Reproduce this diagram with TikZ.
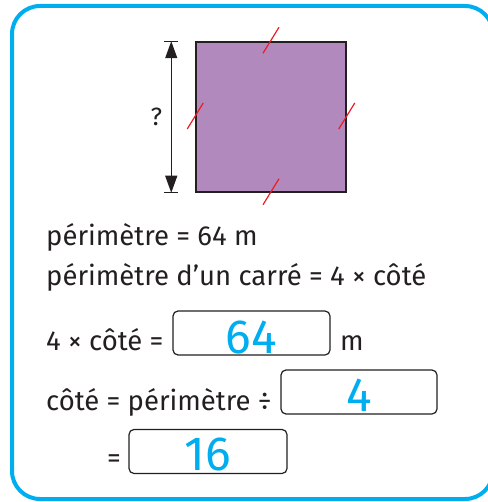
\documentclass[tikz,border=0pt]{standalone}
\usepackage{fontspec}
\setmainfont{Fira Sans}
\usetikzlibrary{positioning, arrows.meta, calc}
\definecolor{framecyan}{RGB}{0,174,239}
\definecolor{squarepurple}{RGB}{177,137,189}
\definecolor{markred}{RGB}{237,28,36}
\definecolor{inkgrey}{RGB}{35,31,32}

\begin{document}
\begin{tikzpicture}[x=1pt, y=-1pt,
    txt/.style={anchor=base west, inner sep=0pt, font=\fontsize{27.5}{32}\selectfont, text=inkgrey},
    ansbox/.style={draw=inkgrey, line width=1.2pt, rounded corners=5pt, minimum height=44pt, inner sep=0pt,
        font=\fontsize{48}{52}\selectfont, text=framecyan, text depth=0pt},
    eqmark/.style={draw=markred, line width=1.2pt},
    dimarr/.style={{Triangle[length=17pt,width=12pt]}-{Triangle[length=17pt,width=12pt]}, line width=1.2pt, inkgrey}
]
    \useasboundingbox (0,0) rectangle (487,502);
    \draw[framecyan, line width=4pt, rounded corners=28pt] (12,6) rectangle (493,499);

    % square with equal-side marks
    \node[draw=inkgrey, line width=1.5pt, fill=squarepurple, minimum size=150pt, inner sep=0pt] (sq) at (271,117) {};
    \foreach \side in {north, south, east, west}
        \draw[eqmark] ($(sq.\side)+(-8,12)$) -- ($(sq.\side)+(8,-14)$);

    % side length to find
    \coordinate (dimtop) at ($(sq.north west)+(-24,0)$);
    \coordinate (dimbot) at ($(sq.south west)+(-24,0)$);
    \draw[inkgrey, line width=1.2pt] ($(dimtop)+(-7,0)$) -- ($(dimtop)+(7,0)$);
    \draw[inkgrey, line width=1.2pt] ($(dimbot)+(-7,0)$) -- ($(dimbot)+(7,0)$);
    \draw[dimarr] (dimtop) -- node[xshift=-15pt, inner sep=0pt, font=\fontsize{25}{30}\selectfont, text=inkgrey] (qmark) {?} (dimbot);

    % working
    \node[txt] (perim)   at (46,245) {périmètre = 64 m};
    \node[txt] (formula) at (46,285) {périmètre d’un carré = 4 × côté};

    \node[txt] (line1) at (46,350) {4 × côté =};
    \node[ansbox, minimum width=157pt, text height=40pt] (box1) at (251.5,333) {64};
    \node[txt] (unit) at (340,350) {m};

    \node[txt] (line2) at (46,410) {côté = périmètre ÷};
    \node[ansbox, minimum width=156pt, text height=38pt] (box2) at (359,392) {4};

    \node[txt] (line3) at (107,467) {=};
    \node[ansbox, minimum width=158pt, text height=37pt] (box3) at (208,451.5) {16};
\end{tikzpicture}
\end{document}
